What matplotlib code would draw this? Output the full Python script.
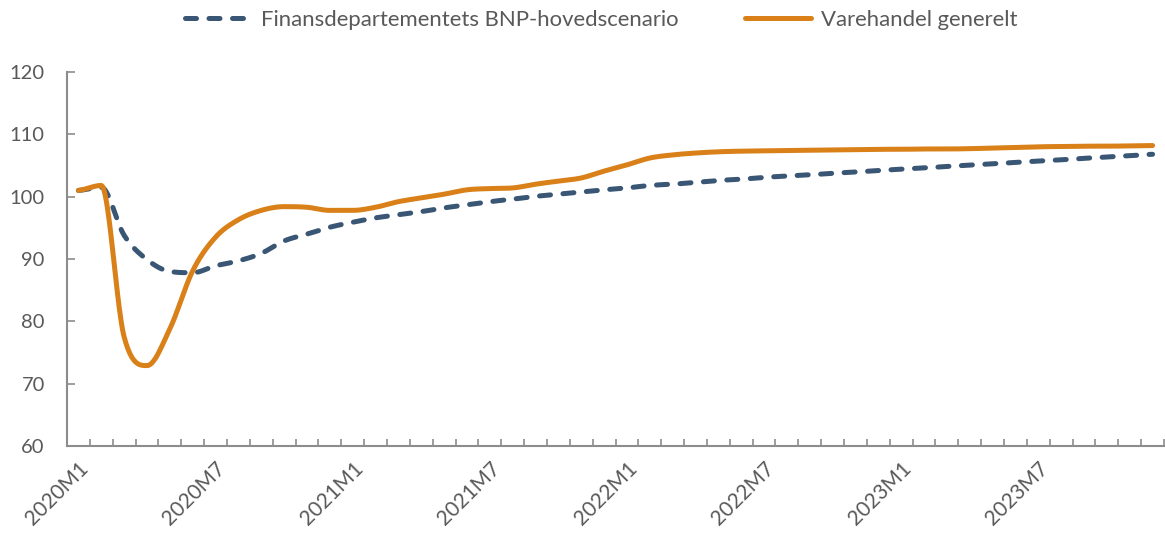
import numpy as np
import matplotlib
matplotlib.use("Agg")
import matplotlib.pyplot as plt
from matplotlib.ticker import FixedLocator

plt.rcParams['font.family'] = ['Lato', 'DejaVu Sans']

months = [f"{y}M{m}" for y in range(2020, 2024) for m in range(1, 13)]
tick_labels = ["2020M1", "2020M7", "2021M1", "2021M7", "2022M1", "2022M7", "2023M1", "2023M7"]

bnp_scenario = [101.0, 101.5, 93.8, 89.9, 88.0, 87.8, 88.9, 89.7, 90.9, 92.9, 94.0, 95.1,
                95.9, 96.6, 97.1, 97.6, 98.2, 98.7, 99.2, 99.6, 100.05, 100.4, 100.75, 101.1,
                101.4, 101.8, 102.0, 102.3, 102.6, 102.8, 103.1, 103.3, 103.5, 103.75, 103.95, 104.2,
                104.4, 104.6, 104.85, 105.05, 105.25, 105.5, 105.7, 105.9, 106.15, 106.35, 106.55, 106.8]
varehandel = [101.0, 101.8, 77.5, 72.9, 78.8, 88.1, 93.5, 96.3, 97.8, 98.4, 98.3, 97.8,
              97.8, 98.3, 99.2, 99.8, 100.4, 101.1, 101.3, 101.4, 102.0, 102.5, 103.0, 104.1,
              105.1, 106.2, 106.7, 107.0, 107.2, 107.3, 107.35, 107.4, 107.45, 107.5, 107.55, 107.6,
              107.6, 107.65, 107.65, 107.7, 107.8, 107.9, 108.0, 108.05, 108.1, 108.1, 108.15, 108.2]

series_names = ["Finansdepartementets BNP-hovedscenario", "Varehandel generelt"]
blue = "#3A5675"
orange = "#D98019"
grey = "#595959"
axis_grey = "#8c8c8c"


def smooth(xs, ys, n=24):
    """Render a smoothed line through the data points (Hermite with clamped tangents)."""
    xs = np.asarray(xs, float)
    ys = np.asarray(ys, float)
    k = len(ys)
    d = np.diff(ys)
    m = np.zeros(k)
    m[0] = d[0] / 2
    m[-1] = d[-1] / 2
    for i in range(1, k - 1):
        a, b = d[i - 1], d[i]
        if a * b <= 0:
            m[i] = 0.0
        else:
            cr = (a + b) / 2
            lim = 3 * min(abs(a), abs(b))
            m[i] = np.sign(cr) * min(abs(cr), lim)
    ox, oy = [], []
    t = np.linspace(0, 1, n, endpoint=False)
    h00 = 2 * t**3 - 3 * t**2 + 1
    h10 = t**3 - 2 * t**2 + t
    h01 = -2 * t**3 + 3 * t**2
    h11 = t**3 - t**2
    for i in range(k - 1):
        ox.extend(xs[i] + t * (xs[i + 1] - xs[i]))
        oy.extend(h00 * ys[i] + h10 * m[i] + h01 * ys[i + 1] + h11 * m[i + 1])
    ox.append(xs[-1])
    oy.append(ys[-1])
    return np.array(ox), np.array(oy)


fig = plt.figure(figsize=(11.65, 5.36), dpi=100)
ax = fig.add_axes([67 / 1165, 1 - 446 / 536, (1164 - 67) / 1165, (446 - 72) / 536])

x = np.arange(len(months))
bx, by = smooth(x, bnp_scenario)
ox, oy = smooth(x, varehandel)
l1, = ax.plot(bx, by, color=blue, lw=3.6, linestyle=(0, (2.2, 2.5)),
              dash_capstyle='round', solid_capstyle='round', label=series_names[0])
l2, = ax.plot(ox, oy, color=orange, lw=3.6, solid_capstyle='round', label=series_names[1])

ax.set_xlim(-0.5, len(months) - 0.5)
ax.set_ylim(60, 120)
ax.set_yticks(np.arange(60, 121, 10))

tick_pos = [months.index(t) for t in tick_labels]
ax.set_xticks(tick_pos)
ax.set_xticklabels(tick_labels, rotation=45, ha='right', va='top', rotation_mode='anchor')
ax.xaxis.set_minor_locator(FixedLocator(np.arange(-0.5, len(months), 1.0)))
ax.tick_params(axis='x', which='major', length=0, pad=9, labelsize=15, labelcolor=grey)
ax.tick_params(axis='x', which='minor', length=5, width=1.2, direction='in', color=axis_grey)
ax.tick_params(axis='y', which='major', length=5.5, width=1.2, direction='in', color=axis_grey,
               labelsize=14.5, labelcolor=grey, pad=16)

for s in ['top', 'right']:
    ax.spines[s].set_visible(False)
for s in ['left', 'bottom']:
    ax.spines[s].set_color(axis_grey)
    ax.spines[s].set_linewidth(1.5)

fig.legend(handles=[l1, l2], loc='center', bbox_to_anchor=(601 / 1165, 1 - 20 / 536), ncol=2,
           frameon=False, fontsize=15.9, labelcolor=grey, handlelength=3.0, columnspacing=3.0,
           handletextpad=0.45)

fig.savefig("out.png", dpi=100)
